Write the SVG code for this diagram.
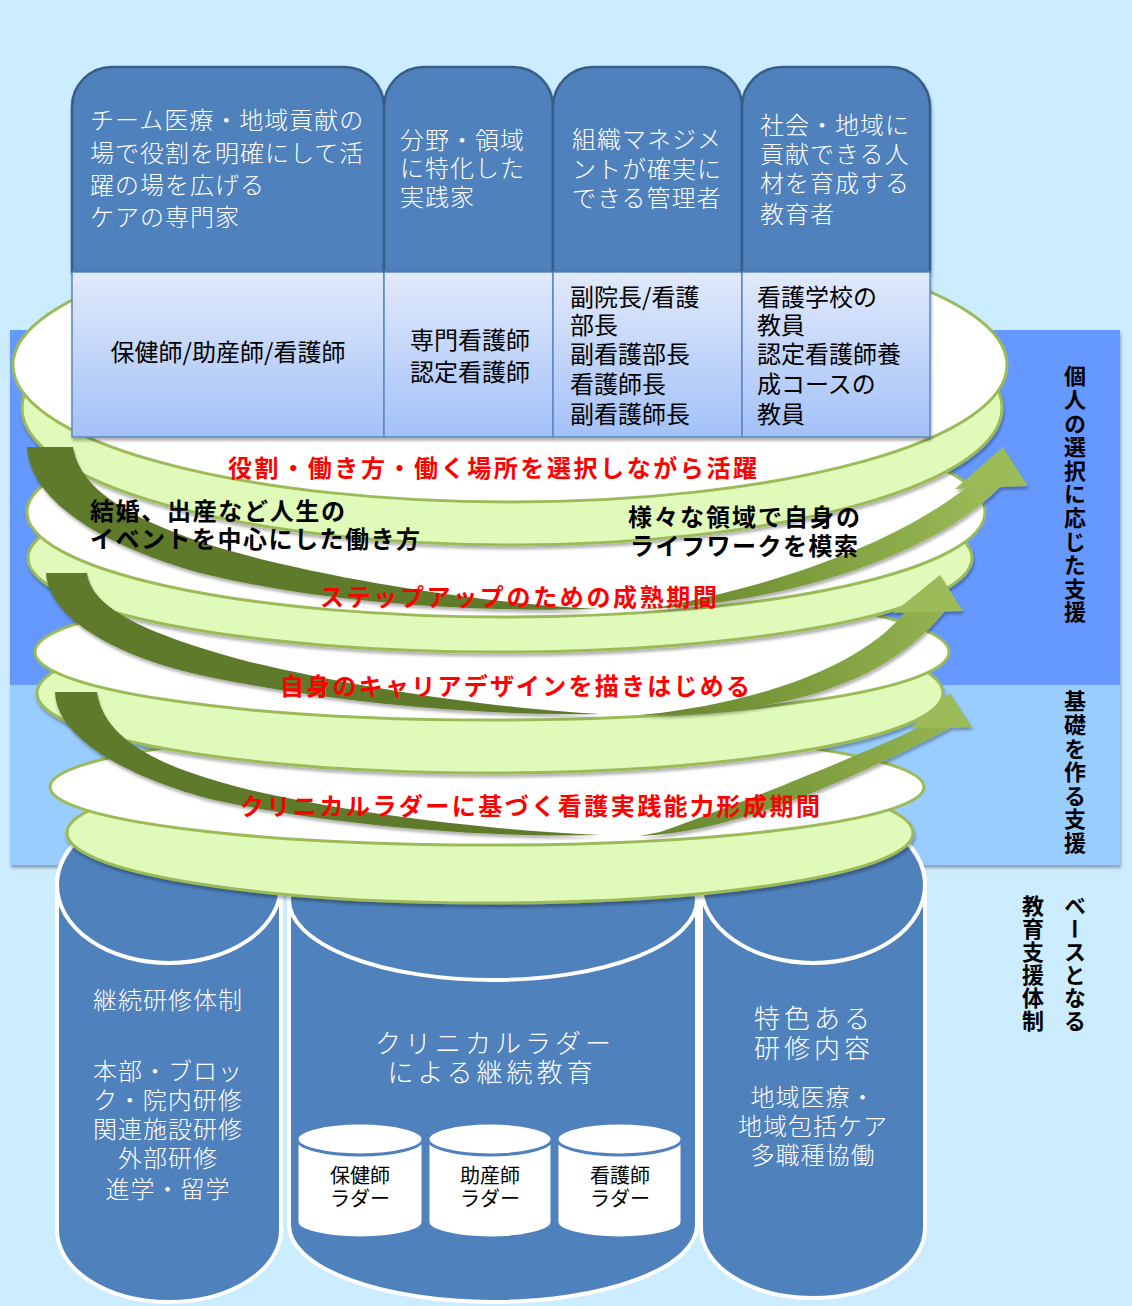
<svg xmlns="http://www.w3.org/2000/svg" width="1132" height="1306" viewBox="0 0 1132 1306">
<defs>
<linearGradient id="lightBox" x1="0" y1="0" x2="0" y2="1">
<stop offset="0" stop-color="#E2EAFB"/>
<stop offset="1" stop-color="#A3C1F8"/>
</linearGradient>
<linearGradient id="shaft" gradientUnits="userSpaceOnUse" x1="640" y1="0" x2="990" y2="0">
<stop offset="0" stop-color="#66832F"/>
<stop offset="0.45" stop-color="#7C9C3C"/>
<stop offset="1" stop-color="#9BBB59"/>
</linearGradient>
<filter id="sh" x="-5%" y="-10%" width="110%" height="130%">
<feDropShadow dx="1" dy="3" stdDeviation="1.5" flood-color="#000" flood-opacity="0.3"/>
</filter>
<style>
.face{fill:#FFFFFF;stroke:#9BBB59;stroke-width:3}
.band{fill:#DFFAB9;stroke:#9BBB59;stroke-width:3}
.dark{fill:#4F81BD;stroke:#385D8A;stroke-width:2.5}
.light{fill:url(#lightBox);stroke:#5B87C5;stroke-width:1.5}
.cyl{fill:#4F81BD;stroke:#FFFFFF;stroke-width:4}
.mini{fill:#FFFFFF;stroke:#4F81BD;stroke-width:3}
.tail{fill:#5F7A2C}
.shaft{fill:url(#shaft)}
.head{fill:#9BBB59}
text{font-family:"Noto Sans CJK JP","Noto Sans CJK SC",sans-serif}
.wt{fill:#FFFFFF;font-size:24px;letter-spacing:1px;font-weight:300}
.bt{fill:#000000;font-size:24px}
.rt{fill:#FF0000;font-size:24px;font-weight:bold}
.kt{fill:#000000;font-size:24px;font-weight:bold}
.ct{fill:#FFFFFF;font-size:24px;text-anchor:middle;letter-spacing:1px;font-weight:300}
.big{fill:#FFFFFF;font-size:26px;text-anchor:middle;letter-spacing:4px;font-weight:300}
.sm{fill:#000000;font-size:20px;text-anchor:middle}
.vt{fill:#000000;font-size:22px;font-weight:bold;writing-mode:vertical-rl;letter-spacing:1.6px}
</style>
</defs>

<rect id="background" x="0" y="0" width="1132" height="1306" fill="#CCECFF"/>

<g id="panel" filter="url(#sh)">
<rect x="10" y="330" width="1110" height="355" fill="#6699FF"/>
<rect x="10" y="685" width="1110" height="180" fill="#99CCFF"/>
</g>

<g id="cyl-left">
<path class="cyl" d="M57,885 V1230 A112,72 0 0 0 281,1230 V885 A112,78 0 0 0 57,885 Z"/>
<ellipse class="cyl" cx="169" cy="885" rx="112" ry="78"/>
<text class="ct" x="168" y="1009">継続研修体制</text>
<text class="ct" x="168" y="1080">本部・ブロッ</text>
<text class="ct" x="168" y="1109">ク・院内研修</text>
<text class="ct" x="168" y="1138">関連施設研修</text>
<text class="ct" x="168" y="1167">外部研修</text>
<text class="ct" x="168" y="1198">進学・留学</text>
</g>

<g id="cyl-middle">
<path class="cyl" d="M289,900 V1225 A204,77 0 0 0 697,1225 V900 A204,80 0 0 0 289,900 Z"/>
<ellipse class="cyl" cx="493" cy="900" rx="204" ry="80"/>
<text class="big" x="495" y="1053">クリニカルラダー</text>
<text class="big" x="492" y="1082">による継続教育</text>
</g>

<g id="ladder-hokenshi">
<path class="mini" d="M297,1139 V1222 A63,16 0 0 0 423,1222 V1139 Z"/>
<ellipse class="mini" cx="360" cy="1139" rx="63" ry="16"/>
<text class="sm" x="360" y="1183">保健師</text>
<text class="sm" x="360" y="1206">ラダー</text>
</g>
<g id="ladder-josanshi">
<path class="mini" d="M428,1139 V1222 A62,16 0 0 0 552,1222 V1139 Z"/>
<ellipse class="mini" cx="490" cy="1139" rx="62" ry="16"/>
<text class="sm" x="490" y="1183">助産師</text>
<text class="sm" x="490" y="1206">ラダー</text>
</g>
<g id="ladder-kangoshi">
<path class="mini" d="M557,1139 V1222 A62.5,16 0 0 0 682,1222 V1139 Z"/>
<ellipse class="mini" cx="619.5" cy="1139" rx="62.5" ry="16"/>
<text class="sm" x="620" y="1183">看護師</text>
<text class="sm" x="620" y="1206">ラダー</text>
</g>

<g id="cyl-right">
<path class="cyl" d="M701,885 V1228 A112,70 0 0 0 925,1228 V885 A112,78 0 0 0 701,885 Z"/>
<ellipse class="cyl" cx="813" cy="885" rx="112" ry="78"/>
<text class="big" x="814" y="1028">特色ある</text>
<text class="big" x="814" y="1058">研修内容</text>
<text class="ct" x="813" y="1106">地域医療・</text>
<text class="ct" x="813" y="1135">地域包括ケア</text>
<text class="ct" x="813" y="1164">多職種協働</text>
</g>

<g id="disc4">
<ellipse class="band" filter="url(#sh)" cx="490" cy="833" rx="423" ry="70"/>
<ellipse class="face" cx="487" cy="787" rx="437" ry="58"/>
</g>
<g id="disc3">
<ellipse class="band" filter="url(#sh)" cx="490" cy="693" rx="453" ry="80"/>
<ellipse class="face" cx="492" cy="652" rx="457" ry="68"/>
</g>
<g id="disc2">
<ellipse class="band" filter="url(#sh)" cx="500" cy="558" rx="472" ry="94"/>
<ellipse class="face" cx="506" cy="512" rx="479" ry="105"/>
</g>
<g id="disc1">
<ellipse class="band" filter="url(#sh)" cx="512" cy="408" rx="490" ry="137"/>
<ellipse class="face" cx="510" cy="365" rx="497" ry="137"/>
</g>

<g id="boxes" filter="url(#sh)">
<g id="col1">
<path class="dark" d="M72,272 V107 A40,40 0 0 1 112,67 H344 A40,40 0 0 1 384,107 V272 Z"/>
<rect class="light" x="72" y="272" width="312" height="165"/>
</g>
<g id="col2">
<path class="dark" d="M384,272 V107 A40,40 0 0 1 424,67 H513 A40,40 0 0 1 553,107 V272 Z"/>
<rect class="light" x="384" y="272" width="169" height="165"/>
</g>
<g id="col3">
<path class="dark" d="M553,272 V107 A40,40 0 0 1 593,67 H702 A40,40 0 0 1 742,107 V272 Z"/>
<rect class="light" x="553" y="272" width="189" height="165"/>
</g>
<g id="col4">
<path class="dark" d="M742,272 V107 A40,40 0 0 1 782,67 H890 A40,40 0 0 1 930,107 V272 Z"/>
<rect class="light" x="742" y="272" width="188" height="165"/>
</g>
</g>

<g id="box-texts">
<text class="wt" x="90" y="129">チーム医療・地域貢献の</text>
<text class="wt" x="90" y="162">場で役割を明確にして活</text>
<text class="wt" x="90" y="194">躍の場を広げる</text>
<text class="wt" x="90" y="226">ケアの専門家</text>
<text class="wt" x="400" y="149">分野・領域</text>
<text class="wt" x="400" y="177">に特化した</text>
<text class="wt" x="400" y="206">実践家</text>
<text class="wt" x="572" y="148">組織マネジメ</text>
<text class="wt" x="572" y="178">ントが確実に</text>
<text class="wt" x="572" y="207">できる管理者</text>
<text class="wt" x="760" y="134">社会・地域に</text>
<text class="wt" x="760" y="163">貢献できる人</text>
<text class="wt" x="760" y="192">材を育成する</text>
<text class="wt" x="760" y="223">教育者</text>
<text class="bt" x="228" y="361" text-anchor="middle">保健師/助産師/看護師</text>
<text class="bt" x="470" y="349" text-anchor="middle">専門看護師</text>
<text class="bt" x="470" y="381" text-anchor="middle">認定看護師</text>
<text class="bt" x="570" y="306">副院長/看護</text>
<text class="bt" x="570" y="334">部長</text>
<text class="bt" x="570" y="363">副看護部長</text>
<text class="bt" x="570" y="393">看護師長</text>
<text class="bt" x="570" y="423">副看護師長</text>
<text class="bt" x="757" y="306">看護学校の</text>
<text class="bt" x="757" y="334">教員</text>
<text class="bt" x="757" y="363">認定看護師養</text>
<text class="bt" x="757" y="393">成コースの</text>
<text class="bt" x="757" y="423">教員</text>
</g>

<g id="connectors" filter="url(#sh)">
<g id="arrow1">
<path class="tail" d="M27,447 C30,500 100,545 200,573 C330,605 480,612 600,609 C490,604 330,580 220,548 C130,520 80,490 73,447 Z"/>
<path class="shaft" d="M640,609 C770,606 930,560 1000,487 L967,487 C900,540 790,582 660,607 Z"/>
<polygon class="head" points="955,489 1003,447 1028,486"/>
</g>
<g id="arrow2">
<path class="tail" d="M46,573 C48,615 110,655 200,675 C330,703 480,716 600,714 C490,708 360,688 250,662 C150,635 92,610 87,573 Z"/>
<path class="shaft" d="M640,715 C790,716 890,680 945,611 L905,612 C860,668 760,700 660,713 Z"/>
<polygon class="head" points="893,613 940,575 963,611"/>
</g>
<g id="arrow3">
<path class="tail" d="M55,692 C56,735 120,775 210,799 C330,825 480,838 600,835 C490,830 360,815 250,790 C160,768 104,740 97,692 Z"/>
<path class="shaft" d="M640,836 C740,832 860,775 952,727 L920,727 C860,755 750,800 660,832 Z"/>
<polygon class="head" points="910,728 950,693 972,727"/>
</g>
</g>

<g id="stage-texts">
<text class="rt" x="228" y="477" textLength="529" lengthAdjust="spacing">役割・働き方・働く場所を選択しながら活躍</text>
<text class="rt" x="320" y="606" textLength="397" lengthAdjust="spacing">ステップアップのための成熟期間</text>
<text class="rt" x="280" y="695" textLength="470" lengthAdjust="spacing">自身のキャリアデザインを描きはじめる</text>
<text class="rt" x="240" y="815" textLength="580" lengthAdjust="spacing">クリニカルラダーに基づく看護実践能力形成期間</text>
<text class="kt" x="90" y="520" textLength="255" lengthAdjust="spacing">結婚、出産など人生の</text>
<text class="kt" x="90" y="548" textLength="330" lengthAdjust="spacing">イベントを中心にした働き方</text>
<text class="kt" x="628" y="526" textLength="232" lengthAdjust="spacing">様々な領域で自身の</text>
<text class="kt" x="630" y="555" textLength="228" lengthAdjust="spacing">ライフワークを模索</text>
</g>

<g id="side-labels">
<text class="vt" x="1075" y="365">個人の選択に応じた支援</text>
<text class="vt" x="1075" y="690">基礎を作る支援</text>
<text class="vt" x="1075" y="895" style="letter-spacing:1px">ベースとなる</text>
<text class="vt" x="1033" y="895" style="letter-spacing:1px">教育支援体制</text>
</g>
</svg>
